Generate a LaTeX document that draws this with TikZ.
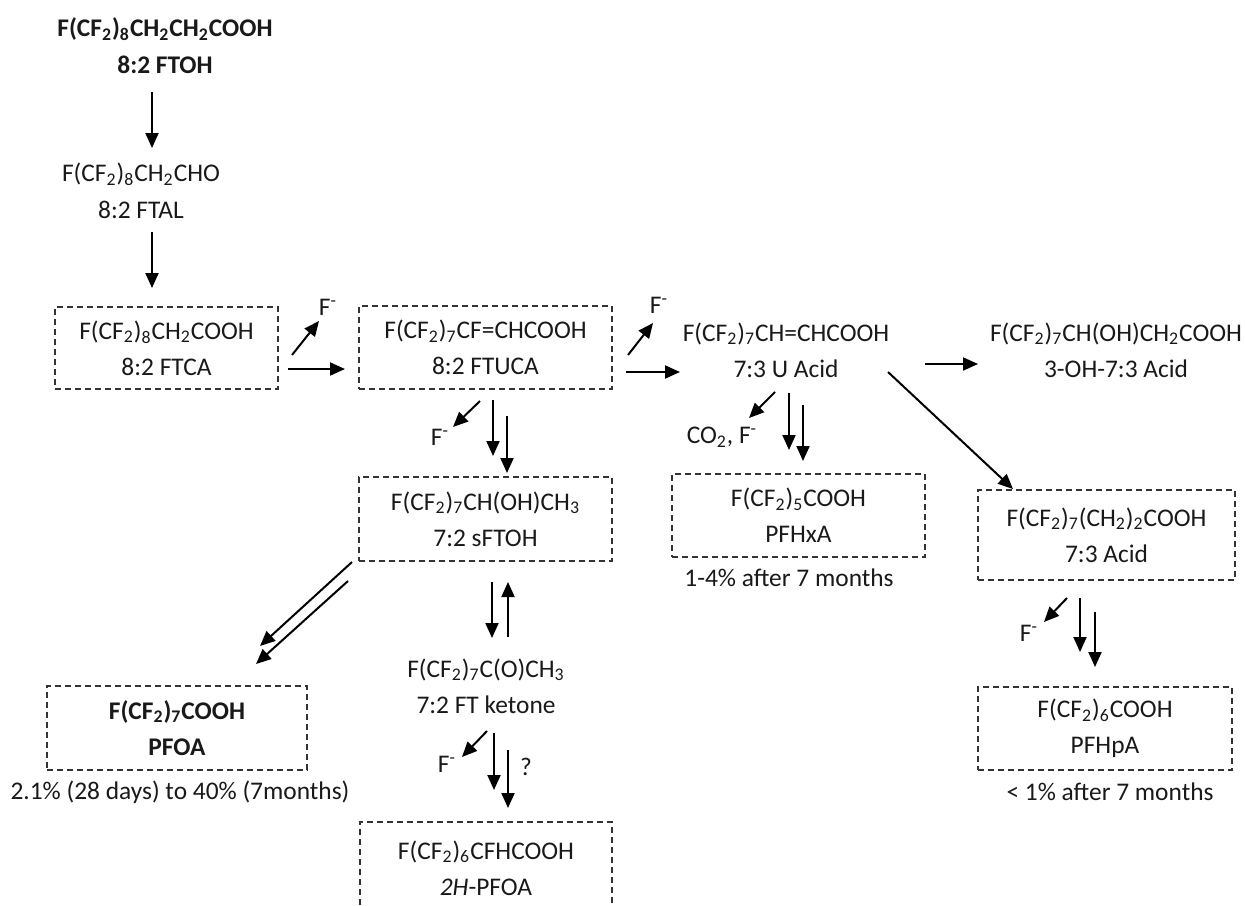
\documentclass[tikz,border=0pt]{standalone}
\usepackage{fontspec}
\setmainfont{Carlito}
\usetikzlibrary{arrows.meta}
\newcommand\sbs[1]{\textsubscript{#1}}
\newcommand\fm{F\textsuperscript{-}}
\begin{document}
\begin{tikzpicture}[x=0.5pt,y=-0.5pt,
  every node/.style={font=\fontsize{12.7}{18}\selectfont, align=center, inner sep=0pt, text=black!90},
  dbox/.style 2 args={draw=black!80, dash pattern=on 3pt off 2pt, line width=0.6pt,
     minimum width=#1*0.5pt, minimum height=#2*0.5pt},
  arr/.style={line width=1pt, -{Triangle[length=7.5pt,width=6.5pt]}},
]
\useasboundingbox (0,0) rectangle (1245,905);

% nodes
\node[font=\fontsize{12.7}{18.5}\selectfont\bfseries] (ftoh) at (165,46) {F(CF\sbs{2})\sbs{8}CH\sbs{2}CH\sbs{2}COOH\\8:2 FTOH};
\node[font=\fontsize{12.7}{18.5}\selectfont] (ftal) at (141,191) {F(CF\sbs{2})\sbs{8}CH\sbs{2}CHO\\8:2 FTAL};
\node[dbox={223}{82}] (ftca) at (166.5,348) {F(CF\sbs{2})\sbs{8}CH\sbs{2}COOH\\8:2 FTCA};
\node[dbox={253}{83}] (ftuca) at (485.5,347.5) {F(CF\sbs{2})\sbs{7}CF=CHCOOH\\8:2 FTUCA};
\node (uacid) at (786,350) {F(CF\sbs{2})\sbs{7}CH=CHCOOH\\7:3 U Acid};
\node (ohacid) at (1116,350) {F(CF\sbs{2})\sbs{7}CH(OH)CH\sbs{2}COOH\\3-OH-7:3 Acid};
\node[dbox={253}{84}] (sftoh) at (485.5,519) {F(CF\sbs{2})\sbs{7}CH(OH)CH\sbs{3}\\7:2 sFTOH};
\node[dbox={253}{83}] (pfhxa) at (798.5,515.5) {F(CF\sbs{2})\sbs{5}COOH\\PFHxA};
\node (pfhxal) at (789,578) {1-4\% after 7 months};
\node[dbox={257}{90}] (acid73) at (1106.5,535) {F(CF\sbs{2})\sbs{7}(CH\sbs{2})\sbs{2}COOH\\7:3 Acid};
\node[dbox={254}{83}] (pfhpa) at (1105,728.5) {F(CF\sbs{2})\sbs{6}COOH\\PFHpA};
\node (pfhpal) at (1110,792) {< 1\% after 7 months};
\node[dbox={260}{84}, font=\fontsize{12.7}{18}\selectfont\bfseries] (pfoa) at (177,728) {F(CF\sbs{2})\sbs{7}COOH\\PFOA};
\node (pfoal) at (180,792) {2.1\% (28 days) to 40\% (7months)};
\node (ketone) at (486,686) {F(CF\sbs{2})\sbs{7}C(O)CH\sbs{3}\\7:2 FT ketone};
\node (hpfoa) at (486,868) {F(CF\sbs{2})\sbs{6}CFHCOOH\\\textit{2H}-PFOA};
\draw[draw=black!80, dash pattern=on 3pt off 2pt, line width=0.6pt] (360,915) -- (360,822) -- (612,822) -- (612,915);

% small labels
\node (f1) at (328,307) {\fm};
\node (f2) at (659,305) {\fm};
\node (f3) at (440,437) {\fm};
\node (co2) at (722,437) {CO\sbs{2}, \fm};
\node (f4) at (1029,633) {\fm};
\node (f5) at (447,764) {\fm};
\node (q) at (526,767) {?};

% arrows
\draw[arr] (152,92) -- (152,148);
\draw[arr] (152,232) -- (152,288);
\draw[arr] (288,369) -- (345,369);
\draw[arr] (292,355) -- (319,321);
\draw[arr] (626,372) -- (680,372);
\draw[arr] (628,355) -- (653,323);
\draw[arr] (925,364) -- (978,364);
\draw[arr] (888,372) -- (1013,489);
\draw[arr] (480,401) -- (453,427);
\draw[arr] (493,400) -- (493,456);
\draw[arr] (507,416) -- (507,473);
\draw[arr] (775,392) -- (749,418);
\draw[arr] (789,393) -- (789,450);
\draw[arr] (803,405) -- (803,461);
\draw[arr] (1067,598) -- (1044,622);
\draw[arr] (1080,598) -- (1080,652);
\draw[arr] (1095,612) -- (1095,667);
\draw[arr] (352,562) -- (260,646);
\draw[arr] (348,581) -- (256,664);
\draw[arr] (492,582) -- (492,638);
\draw[arr] (508,637) -- (508,582);
\draw[arr] (487,731) -- (462,757);
\draw[arr] (494,733) -- (494,790);
\draw[arr] (508,750) -- (508,808);
\end{tikzpicture}
\end{document}
